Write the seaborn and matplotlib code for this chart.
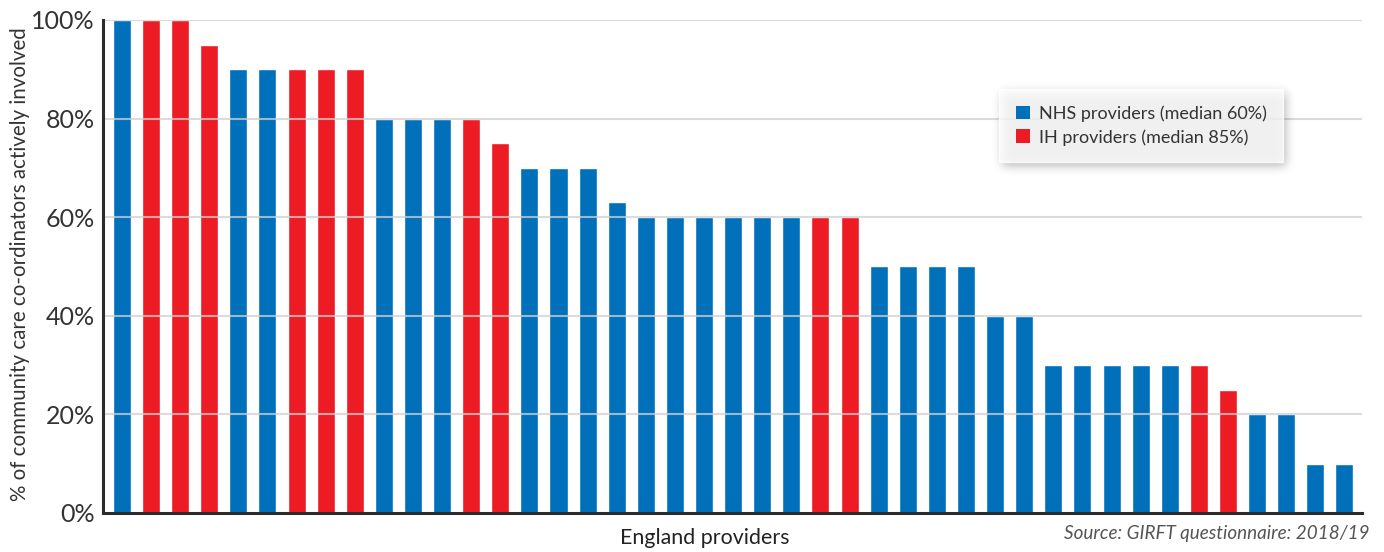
import matplotlib
matplotlib.use("Agg")
import matplotlib.pyplot as plt
import seaborn as sns
import pandas as pd
import numpy as np
from matplotlib.patches import Patch

# Share of community care co-ordinators actively involved, per provider
values = [100, 100, 100, 95, 90, 90, 90, 90, 90, 80, 80, 80, 80, 75,
          70, 70, 70, 63, 60, 60, 60, 60, 60, 60, 60, 60, 50, 50, 50, 50,
          40, 40, 30, 30, 30, 30, 30, 30, 25, 20, 20, 10, 10]
provider_type = ["NHS", "IH", "IH", "IH", "NHS", "NHS", "IH", "IH", "IH",
                 "NHS", "NHS", "NHS", "IH", "IH", "NHS", "NHS", "NHS", "NHS",
                 "NHS", "NHS", "NHS", "NHS", "NHS", "NHS", "IH", "IH",
                 "NHS", "NHS", "NHS", "NHS", "NHS", "NHS", "NHS", "NHS",
                 "NHS", "NHS", "NHS", "IH", "IH", "NHS", "NHS", "NHS", "NHS"]
legend_labels = {"NHS": "NHS providers (median 60%)",
                 "IH": "IH providers (median 85%)"}
y_ticks = [0, 20, 40, 60, 80, 100]

colors = {"NHS": "#0070BA", "IH": "#ED1C24"}

df = pd.DataFrame({"provider": range(len(values)),
                   "value": values,
                   "type": provider_type})

sns.set_theme(style="white")
plt.rcParams["font.family"] = ["Lato", "DejaVu Sans"]

fig = plt.figure(figsize=(13.84, 5.52), dpi=100)
ax = fig.add_axes([0.0744, 0.0707, 0.9096, 0.8931])

sns.barplot(data=df, x="provider", y="value", hue="type", dodge=False,
            palette=colors, width=0.62, saturation=1, legend=False, ax=ax,
            zorder=2)

xlim = (-0.65, len(values) - 0.4)
ylim = (0, 100)
ax.set_ylim(*ylim)
ax.set_xlim(*xlim)
ax.set_yticks(y_ticks)
ax.set_yticklabels([f"{t}%" for t in y_ticks], fontsize=18, color="#333333")
ax.set_xticks([])
ax.tick_params(axis="y", length=0, pad=6)

# light horizontal gridlines, drawn across the bars
for t in y_ticks[1:]:
    ax.axhline(t, color="#D0D0D0", linewidth=1.5, alpha=0.75, zorder=3)

for side in ["top", "right"]:
    ax.spines[side].set_visible(False)
for side in ["left", "bottom"]:
    ax.spines[side].set_color("#2B2B2B")
    ax.spines[side].set_linewidth(2.2)
    ax.spines[side].set_zorder(5)

ax.set_ylabel("% of community care co-ordinators actively involved",
              fontsize=14.8, color="#333333")
ax.yaxis.set_label_coords(-0.058, 0.505)
ax.set_xlabel("England providers", fontsize=15.4, color="#222222")
ax.xaxis.set_label_coords(0.478, -0.031)

fig.text(0.9895, 0.018, "Source: GIRFT questionnaire: 2018/19",
         ha="right", va="bottom", fontsize=13.6, style="italic",
         color="#555555")

handles = [Patch(facecolor=colors[k], edgecolor="none", label=legend_labels[k])
           for k in ["NHS", "IH"]]
leg = ax.legend(handles=handles, loc="upper left",
                bbox_to_anchor=(0.712, 0.86), fontsize=13,
                frameon=True, fancybox=False, shadow=False,
                handlelength=0.8, handleheight=0.8, handletextpad=0.5,
                labelspacing=0.4, borderpad=0.9, borderaxespad=0)
leg.get_frame().set_edgecolor("white")
leg.get_frame().set_facecolor("white")
leg.set_zorder(6)
for t in leg.get_texts():
    t.set_color("#333333")

# soft drop shadow behind the legend box
fig.canvas.draw()
bb = leg.get_frame().get_window_extent()
pad = 24
w = int(round(bb.width)) + 2 * pad
h = int(round(bb.height)) + 2 * pad
mask = np.zeros((h, w))
off_x, off_y = 3, 4
mask[pad + off_y:pad + off_y + int(round(bb.height)),
     pad + off_x:pad + off_x + int(round(bb.width))] = 1.0
sigma = 5.0
k = np.arange(-15, 16)
kern = np.exp(-k ** 2 / (2 * sigma ** 2))
kern /= kern.sum()
mask = np.apply_along_axis(lambda r: np.convolve(r, kern, mode="same"), 1, mask)
mask = np.apply_along_axis(lambda c: np.convolve(c, kern, mode="same"), 0, mask)
shadow = np.zeros((h, w, 4))
shadow[..., 3] = 0.28 * mask
inv = ax.transData.inverted()
x0, y_top = inv.transform((bb.x0 - pad, bb.y1 + pad))
x1, y_bot = inv.transform((bb.x0 - pad + w, bb.y1 + pad - h))
ax.imshow(shadow, extent=(x0, x1, y_bot, y_top), aspect="auto",
          interpolation="bilinear", zorder=4)
ax.set_xlim(*xlim)
ax.set_ylim(*ylim)

fig.savefig("out.png", dpi=100)
